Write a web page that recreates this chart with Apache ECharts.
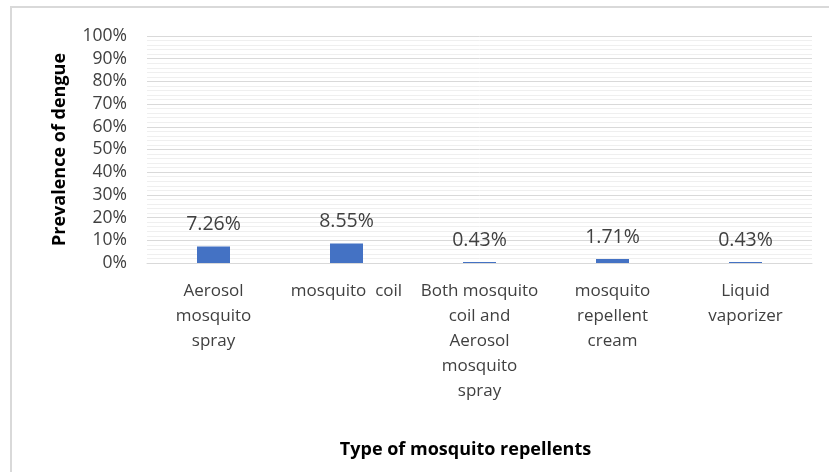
<!DOCTYPE html>
<html>
<head>
<meta charset="utf-8">
<script src="https://cdn.jsdelivr.net/npm/echarts@6/dist/echarts.min.js"></script>
<style>
html,body{margin:0;padding:0;background:#fff;}
#wrap{position:relative;width:829px;height:472px;overflow:hidden;}
#frame{position:absolute;left:10px;top:6px;width:830px;height:480px;border:2px solid #d9d9d9;box-sizing:border-box;}
#chart{position:absolute;left:0;top:0;width:829px;height:472px;}
</style>
</head>
<body>
<div id="wrap"><div id="frame"></div><div id="chart"></div></div>
<script>
var categories = [
  "Aerosol\nmosquito\nspray",
  "mosquito  coil",
  "Both mosquito\ncoil and\nAerosol\nmosquito\nspray",
  "mosquito\nrepellent\ncream",
  "Liquid\nvaporizer"
];
var prevalence = [7.26, 8.55, 0.43, 1.71, 0.43];
var yTicks = [0, 10, 20, 30, 40, 50, 60, 70, 80, 90, 100];
var yAxisTitle = "Prevalence of dengue";
var xAxisTitle = "Type of mosquito repellents";

var font = "'Open Sans', 'Noto Sans', sans-serif";
var chart = echarts.init(document.getElementById('chart'));
chart.setOption({
  animation: false,
  grid: {left: 147, right: 17, top: 36, bottom: 209, containLabel: false},
  xAxis: {
    type: 'category',
    data: categories,
    axisLine: {show: true, lineStyle: {color: '#d9d9d9'}},
    axisTick: {show: false},
    axisLabel: {interval: 0, color: '#404040', fontFamily: font, fontSize: 17, lineHeight: 25, margin: 16},
    name: xAxisTitle,
    nameLocation: 'middle',
    nameGap: 178,
    nameTextStyle: {color: '#000', fontFamily: font, fontSize: 18, fontWeight: 'bold', padding: [0, 28, 0, 0]}
  },
  yAxis: {
    type: 'value',
    min: yTicks[0],
    max: yTicks[yTicks.length - 1],
    interval: 10,
    axisLine: {show: false},
    axisTick: {show: false},
    axisLabel: {formatter: '{value}%', color: '#404040', fontFamily: font, fontSize: 17.5, margin: 20},
    splitLine: {show: true, lineStyle: {color: '#d9d9d9', width: 1}},
    minorTick: {show: false, splitNumber: 5},
    minorSplitLine: {show: true, lineStyle: {color: '#efefef', width: 1}},
    name: yAxisTitle,
    nameLocation: 'middle',
    nameGap: 78,
    nameTextStyle: {color: '#000', fontFamily: font, fontSize: 18, fontWeight: 'bold'}
  },
  series: [{
    type: 'bar',
    data: prevalence,
    barWidth: 33,
    itemStyle: {color: '#4472c4'},
    label: {
      show: true,
      position: 'top',
      distance: 12,
      formatter: function (p) { return p.value.toFixed(2) + '%'; },
      color: '#404040',
      fontFamily: font,
      fontSize: 19.5
    }
  }]
});
</script>
</body>
</html>
